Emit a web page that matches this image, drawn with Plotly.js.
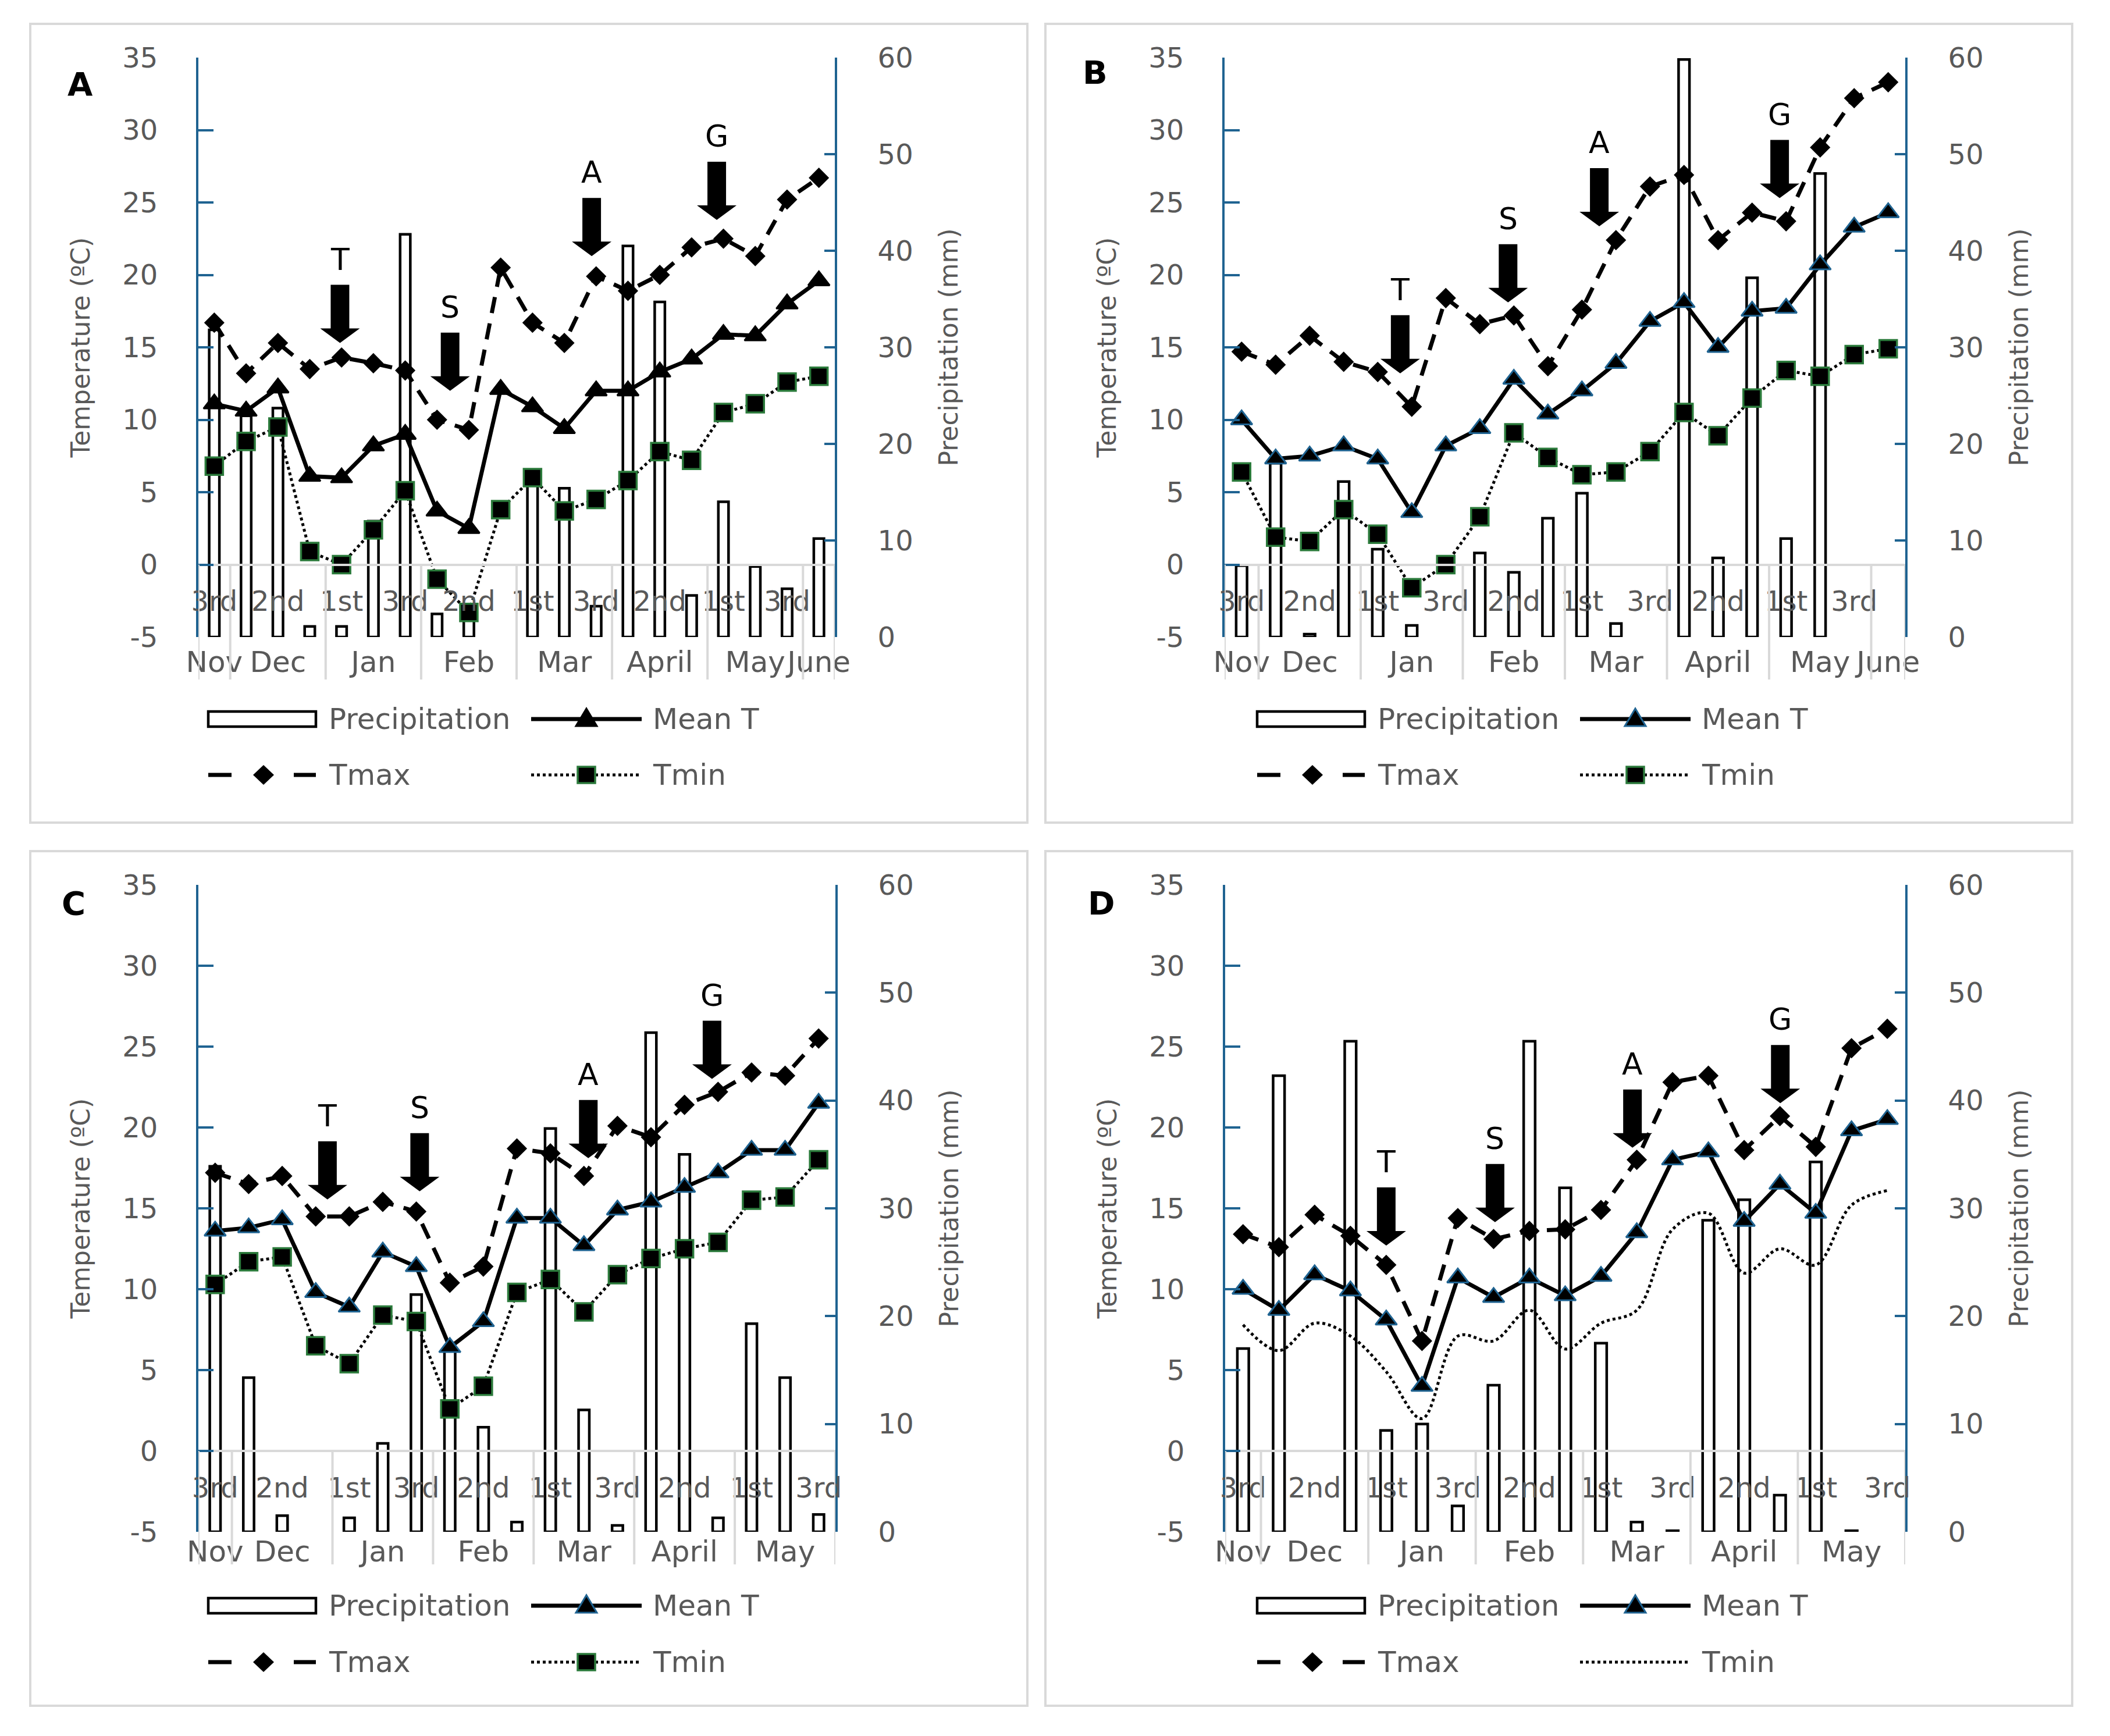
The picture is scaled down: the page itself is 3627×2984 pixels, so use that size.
<!DOCTYPE html>
<html>
<head>
<meta charset="utf-8">
<script src="https://cdn.plot.ly/plotly-3.0.1.min.js"></script>
<style>
  html, body { margin: 0; padding: 0; background: #ffffff; }
  #chart { width: 3627px; height: 2984px; }
</style>
</head>
<body>
<div id="chart"></div>
<script>
// ---------------- DATA ----------------
const panelLetters = ['A', 'B', 'C', 'D'];
const seriesNames = ['Precipitation', 'Mean T', 'Tmax', 'Tmin'];
const stageLabels = ['T', 'S', 'A', 'G'];

const monthsLong = ['Nov', 'Dec', 'Jan', 'Feb', 'Mar', 'April', 'May', 'June'];
const monthDekadsLong = [1, 3, 3, 3, 3, 3, 3, 1];
const monthsShort = ['Nov', 'Dec', 'Jan', 'Feb', 'Mar', 'April', 'May'];
const monthDekadsShort = [1, 3, 3, 3, 3, 3, 3];
const dekadsLong = ['3rd', '1st', '2nd', '3rd', '1st', '2nd', '3rd', '1st', '2nd', '3rd',
                    '1st', '2nd', '3rd', '1st', '2nd', '3rd', '1st', '2nd', '3rd', '1st'];
const dekadsShort = ['3rd', '1st', '2nd', '3rd', '1st', '2nd', '3rd', '1st', '2nd', '3rd',
                     '1st', '2nd', '3rd', '1st', '2nd', '3rd', '1st', '2nd', '3rd'];

const tempTicks = [-5, 0, 5, 10, 15, 20, 25, 30, 35];
const tempTickText = ['-5', '0', '5', '10', '15', '20', '25', '30', '35'];
const precipTicks = [0, 10, 20, 30, 40, 50, 60];
const precipTickText = ['0', '10', '20', '30', '40', '50', '60'];

// Panel A
const precipA = [31.8, 22.9, 23.7, 1.1, 1.1, 12.0, 41.7, 2.4, 2.6, 0, 16.0, 15.4, 3.2, 40.5, 34.7, 4.3, 14.0, 7.3, 5.0, 10.2];
const meanA   = [11.1, 10.6, 12.2, 6.1, 6.0, 8.2, 9.0, 3.7, 2.5, 12.1, 10.9, 9.4, 12.0, 12.0, 13.3, 14.2, 15.9, 15.8, 18.0, 19.6];
const tmaxA   = [16.7, 13.2, 15.3, 13.5, 14.3, 13.9, 13.4, 10.0, 9.3, 20.5, 16.7, 15.3, 19.9, 18.9, 20.0, 21.9, 22.5, 21.3, 25.2, 26.7];
const tminA   = [6.8, 8.5, 9.5, 0.9, 0.0, 2.4, 5.1, -1.0, -3.3, 3.8, 6.0, 3.7, 4.5, 5.8, 7.8, 7.2, 10.5, 11.1, 12.6, 13.0];
const stageXA = [3.95, 7.41, 11.86, 15.79];
const stageTipA = [15.3, 12.0, 21.3, 23.8];

// Panel B
const precipB = [7.4, 18.0, 0.3, 16.1, 9.1, 1.2, 0, 8.7, 6.7, 12.3, 14.9, 1.4, 0, 59.8, 8.2, 37.2, 10.2, 48.0, 0, 0];
const meanB   = [10.0, 7.3, 7.5, 8.2, 7.3, 3.6, 8.2, 9.4, 12.8, 10.4, 12.0, 13.9, 16.8, 18.1, 15.0, 17.5, 17.7, 20.7, 23.3, 24.3];
const tmaxB   = [14.7, 13.8, 15.8, 14.0, 13.3, 10.9, 18.4, 16.6, 17.2, 13.7, 17.6, 22.4, 26.1, 26.9, 22.4, 24.3, 23.7, 28.8, 32.2, 33.3];
const tminB   = [6.4, 1.9, 1.6, 3.8, 2.1, -1.6, 0.0, 3.3, 9.1, 7.4, 6.2, 6.4, 7.8, 10.5, 8.9, 11.5, 13.4, 13.0, 14.5, 14.9];
const stageXB = [4.66, 7.83, 10.51, 15.81];
const stageTipB = [13.2, 18.1, 23.35, 25.3];

// Panel C
const precipC = [33.9, 14.3, 1.5, 0, 1.3, 8.2, 22.0, 17.0, 9.7, 0.9, 37.4, 11.3, 0.6, 46.3, 35.0, 1.3, 19.3, 14.3, 1.6];
const meanC   = [13.6, 13.8, 14.3, 9.8, 8.9, 12.3, 11.4, 6.4, 8.0, 14.4, 14.4, 12.7, 14.9, 15.4, 16.3, 17.2, 18.6, 18.6, 21.5];
const tmaxC   = [17.2, 16.5, 17.0, 14.5, 14.5, 15.4, 14.8, 10.4, 11.4, 18.7, 18.4, 17.0, 20.1, 19.4, 21.4, 22.2, 23.4, 23.2, 25.5];
const tminC   = [10.3, 11.7, 12.0, 6.5, 5.4, 8.4, 8.0, 2.6, 4.0, 9.8, 10.6, 8.6, 10.9, 11.9, 12.5, 12.9, 15.5, 15.7, 18.0];
const stageXC = [3.35, 6.1, 11.13, 14.82];
const stageTipC = [15.55, 16.05, 18.1, 23.0];

// Panel D
const precipD = [17.0, 42.3, 0, 45.5, 9.4, 10.0, 2.4, 13.6, 45.5, 31.9, 17.5, 0.9, 0.1, 28.9, 30.8, 3.4, 34.3, 0.1, 0];
const meanD   = [10.0, 8.7, 10.9, 9.9, 8.1, 4.0, 10.7, 9.5, 10.7, 9.6, 10.8, 13.5, 18.0, 18.5, 14.2, 16.5, 14.7, 19.8, 20.5];
const tmaxD   = [13.4, 12.6, 14.6, 13.3, 11.5, 6.8, 14.4, 13.1, 13.6, 13.7, 14.9, 18.0, 22.8, 23.2, 18.6, 20.7, 18.8, 24.9, 26.1];
const tminD   = [7.8, 6.2, 7.9, 7.1, 4.9, 2.0, 7.1, 6.8, 8.7, 6.3, 7.9, 8.7, 13.7, 14.7, 11.0, 12.5, 11.5, 15.2, 16.1];
const stageXD = [4.0, 7.04, 10.88, 15.01];
const stageTipD = [12.7, 14.15, 18.75, 21.5];

// ---------------- STYLE / LAYOUT CONFIG ----------------
const W = 3627, H = 2984;
const FONT = 'DejaVu Sans';
const GRAY = '#595959';
const BLUE = '#1f6391';
const GREEN = '#2b7a3b';
const LIGHT = '#d9d9d9';

const panels = [
  { letter: panelLetters[0], months: monthsLong, counts: monthDekadsLong, dekads: dekadsLong,
    precip: precipA, mean: meanA, tmax: tmaxA, tmin: tminA, stageX: stageXA, stageTip: stageTipA,
    box: { l: 341, r: 1435, t: 99, b: 1095 }, frame: [52, 41, 1766, 1414], letterPos: [138, 145],
    legend: [358, 1236, 1332], meanEdge: 'black', tminMarkers: true, monthStandoff: 9, sepExt: 73 },
  { letter: panelLetters[1], months: monthsLong, counts: monthDekadsLong, dekads: dekadsLong,
    precip: precipB, mean: meanB, tmax: tmaxB, tmin: tminB, stageX: stageXB, stageTip: stageTipB,
    box: { l: 2105, r: 3275, t: 99, b: 1095 }, frame: [1797, 41, 3562, 1414], letterPos: [1882, 125],
    legend: [2161, 1236, 1332], meanEdge: BLUE, tminMarkers: true, monthStandoff: 9, sepExt: 73 },
  { letter: panelLetters[2], months: monthsShort, counts: monthDekadsShort, dekads: dekadsShort,
    precip: precipC, mean: meanC, tmax: tmaxC, tmin: tminC, stageX: stageXC, stageTip: stageTipC,
    box: { l: 341, r: 1436, t: 1521, b: 2633 }, frame: [52, 1463, 1766, 2932], letterPos: [126, 1552],
    legend: [358, 2760, 2857], meanEdge: BLUE, tminMarkers: true, monthStandoff: 0, sepExt: 56 },
  { letter: panelLetters[3], months: monthsShort, counts: monthDekadsShort, dekads: dekadsShort,
    precip: precipD, mean: meanD, tmax: tmaxD, tmin: tminD, stageX: stageXD, stageTip: stageTipD,
    box: { l: 2106, r: 3275, t: 1521, b: 2633 }, frame: [1797, 1463, 3562, 2932], letterPos: [1893, 1552],
    legend: [2161, 2760, 2857], meanEdge: BLUE, tminMarkers: false, monthStandoff: 0, sepExt: 56 }
];

const px = v => v / W;
const py = v => 1 - v / H;
const axId = (letter, n) => (n === 1 ? letter : letter + n);
const axKey = (letter, n) => (n === 1 ? letter + 'axis' : letter + 'axis' + n);

const ARROW_PATH = 'M0,0 L34,25 L16,25 L16,100 L-16,100 L-16,25 L-34,25 Z';
const DIAMOND_PATH = 'M0,17 L18,0 L0,-17 L-18,0 Z';
const TRIANGLE_PATH = 'M-18,-12 L18,-12 L0,18 Z';
const SQUARE_PATH = 'M-15,-14 L15,-14 L15,14 L-15,14 Z';

const traces = [];
const shapes = [];
const annotations = [];
const layout = {
  width: W, height: H,
  margin: { l: 0, r: 0, t: 0, b: 0 },
  paper_bgcolor: '#ffffff', plot_bgcolor: 'rgba(0,0,0,0)',
  showlegend: false,
  font: { family: FONT, color: GRAY },
  shapes: shapes, annotations: annotations
};

function textAnn(x, y, text, size, color, xanchor) {
  annotations.push({ xref: 'paper', yref: 'paper', x: px(x), y: py(y), text: text, showarrow: false,
    xanchor: xanchor || 'left', yanchor: 'middle', font: { family: FONT, size: size, color: color } });
}
function lineShape(x0, y0, x1, y1, line) {
  shapes.push({ type: 'line', xref: 'paper', yref: 'paper', x0: px(x0), y0: py(y0), x1: px(x1), y1: py(y1),
    line: line, layer: 'above' });
}
function markerShape(cx, cy, path, fill, edge, edgeWidth) {
  shapes.push({ type: 'path', xref: 'paper', yref: 'paper', xsizemode: 'pixel', ysizemode: 'pixel',
    xanchor: px(cx), yanchor: py(cy), path: path, fillcolor: fill,
    line: { color: edge, width: edgeWidth }, layer: 'above' });
}

panels.forEach((P, k) => {
  const n = k + 1;
  const xa = axId('x', n), xm = axId('x', n + 4), yp = axId('y', n), yt = axId('y', n + 4);
  const N = P.dekads.length;
  const idx = P.dekads.map((_, i) => i);

  // ----- traces -----
  traces.push({ type: 'bar', name: seriesNames[0], x: idx, y: P.precip, xaxis: xa, yaxis: yp,
    width: 0.32,
    marker: { color: '#ffffff', line: { color: '#000000', width: P.precip.map(v => (v > 0 ? 4.5 : 0)) } },
    hoverinfo: 'skip' });
  traces.push({ type: 'scatter', mode: 'lines+markers', name: seriesNames[1], x: idx, y: P.mean, xaxis: xa, yaxis: yt,
    line: { color: '#000000', width: 7 },
    marker: { symbol: 'triangle-up', size: 32, color: '#000000', line: { color: P.meanEdge, width: 3 } }, hoverinfo: 'skip' });
  traces.push({ type: 'scatter', mode: 'lines+markers', name: seriesNames[2], x: idx, y: P.tmax, xaxis: xa, yaxis: yt,
    line: { color: '#000000', width: 7, dash: '28px,18px' },
    marker: { symbol: 'diamond', size: 27, color: '#000000', line: { width: 0 } }, hoverinfo: 'skip' });
  traces.push({ type: 'scatter', mode: P.tminMarkers ? 'lines+markers' : 'lines', name: seriesNames[3],
    x: idx, y: P.tmin, xaxis: xa, yaxis: yt,
    line: { color: '#000000', width: 5, dash: 'dot', shape: P.tminMarkers ? 'linear' : 'spline', smoothing: 1 },
    marker: { symbol: 'square', size: 30, color: '#000000', line: { color: GREEN, width: 3.5 } }, hoverinfo: 'skip' });
  traces.push({ type: 'scatter', mode: 'markers', x: [], y: [], xaxis: xm, yaxis: yp, showlegend: false, hoverinfo: 'skip' });

  // ----- axes -----
  const xdom = [px(P.box.l), px(P.box.r)];
  const ydom = [py(P.box.b), py(P.box.t)];
  const zeroPaper = ydom[0] + (0 - tempTicks[0]) / (tempTicks[tempTicks.length - 1] - tempTicks[0]) * (ydom[1] - ydom[0]);

  const labIdx = idx.filter(i => i % 2 === 0);
  const bounds = [-0.5];
  P.counts.forEach(c => bounds.push(bounds[bounds.length - 1] + c));
  const centers = P.months.map((_, i) => (bounds[i] + bounds[i + 1]) / 2);

  layout[axKey('x', n)] = {
    domain: xdom, anchor: 'free', position: zeroPaper, range: [-0.5, N - 0.5],
    tickmode: 'array', tickvals: labIdx, ticktext: labIdx.map(i => P.dekads[i]), tickangle: 0,
    ticks: '', showline: true, linecolor: LIGHT, linewidth: 4, showgrid: false, zeroline: false,
    tickfont: { family: FONT, size: 48, color: GRAY }, ticklabelstandoff: 20, fixedrange: true
  };
  layout[axKey('x', n + 4)] = {
    overlaying: xa, anchor: yp, side: 'bottom', range: [-0.5, N - 0.5],
    tickmode: 'array', tickvals: centers, ticktext: P.months, tickangle: 0,
    ticks: '', showline: false, showgrid: false, zeroline: false,
    tickfont: { family: FONT, size: 50, color: GRAY }, ticklabelstandoff: P.monthStandoff, fixedrange: true
  };
  layout[axKey('y', n)] = {
    domain: ydom, anchor: xa, side: 'right', range: [0, 60],
    tickmode: 'array', tickvals: precipTicks, ticktext: precipTickText,
    ticks: 'inside', ticklen: 18, tickwidth: 4, tickcolor: BLUE,
    showline: true, linecolor: BLUE, linewidth: 4, showgrid: false, zeroline: false,
    tickfont: { family: FONT, size: 48, color: GRAY }, ticklabelstandoff: 60,
    title: { text: 'Precipitation (mm)', font: { family: FONT, size: 44, color: GRAY }, standoff: 48 },
    fixedrange: true
  };
  layout[axKey('y', n + 4)] = {
    overlaying: yp, anchor: xa, side: 'left', range: [tempTicks[0], tempTicks[tempTicks.length - 1]],
    tickmode: 'array', tickvals: tempTicks, ticktext: tempTickText,
    ticks: 'inside', ticklen: 26, tickwidth: 4, tickcolor: BLUE,
    showline: true, linecolor: BLUE, linewidth: 4, showgrid: false, zeroline: false,
    tickfont: { family: FONT, size: 48, color: GRAY }, ticklabelstandoff: 56,
    title: { text: 'Temperature (ºC)', font: { family: FONT, size: 44, color: GRAY }, standoff: 43 },
    fixedrange: true
  };

  // ----- frame -----
  shapes.push({ type: 'rect', xref: 'paper', yref: 'paper',
    x0: px(P.frame[0]), y0: py(P.frame[1]), x1: px(P.frame[2]), y1: py(P.frame[3]),
    line: { color: LIGHT, width: 4 }, fillcolor: 'rgba(0,0,0,0)', layer: 'below' });

  // ----- month separators (category axis divisions) -----
  bounds.forEach(b => {
    shapes.push({ type: 'line', xref: xa, yref: 'paper', x0: b, x1: b,
      y0: zeroPaper, y1: py(P.box.b + P.sepExt), line: { color: LIGHT, width: 4 }, layer: 'above' });
  });

  // ----- growth stage arrows -----
  P.stageX.forEach((sx, i) => {
    shapes.push({ type: 'path', xref: xa, yref: yt, xsizemode: 'pixel', ysizemode: 'pixel',
      xanchor: sx, yanchor: P.stageTip[i], path: ARROW_PATH, fillcolor: '#000000',
      line: { color: '#000000', width: 0 }, layer: 'above' });
    annotations.push({ xref: xa, yref: yt, x: sx, y: P.stageTip[i], yshift: 144, text: stageLabels[i],
      showarrow: false, xanchor: 'center', yanchor: 'middle', font: { family: FONT, size: 52, color: '#000000' } });
  });

  // ----- panel letter -----
  textAnn(P.letterPos[0], P.letterPos[1], '<b>' + P.letter + '</b>', 56, '#000000', 'center');

  // ----- legend -----
  const lx = P.legend[0], r1 = P.legend[1], r2 = P.legend[2];
  shapes.push({ type: 'rect', xref: 'paper', yref: 'paper', x0: px(lx), y0: py(r1 - 13), x1: px(lx + 185), y1: py(r1 + 13),
    line: { color: '#000000', width: 4.5 }, fillcolor: '#ffffff', layer: 'above' });
  textAnn(lx + 205, r1, seriesNames[0], 50, GRAY);

  lineShape(lx + 555, r1, lx + 745, r1, { color: '#000000', width: 7 });
  markerShape(lx + 650, r1, TRIANGLE_PATH, '#000000', P.meanEdge, 3);
  textAnn(lx + 762, r1, seriesNames[1], 50, GRAY);

  lineShape(lx, r2, lx + 40, r2, { color: '#000000', width: 7 });
  lineShape(lx + 147, r2, lx + 185, r2, { color: '#000000', width: 7 });
  markerShape(lx + 95, r2, DIAMOND_PATH, '#000000', '#000000', 0);
  textAnn(lx + 205, r2, seriesNames[2], 50, GRAY);

  lineShape(lx + 555, r2, lx + 745, r2, { color: '#000000', width: 5, dash: 'dot' });
  if (P.tminMarkers) markerShape(lx + 650, r2, SQUARE_PATH, '#000000', GREEN, 3.5);
  textAnn(lx + 762, r2, seriesNames[3], 50, GRAY);
});

Plotly.newPlot('chart', traces, layout, { staticPlot: true, displayModeBar: false });
</script>
</body>
</html>
